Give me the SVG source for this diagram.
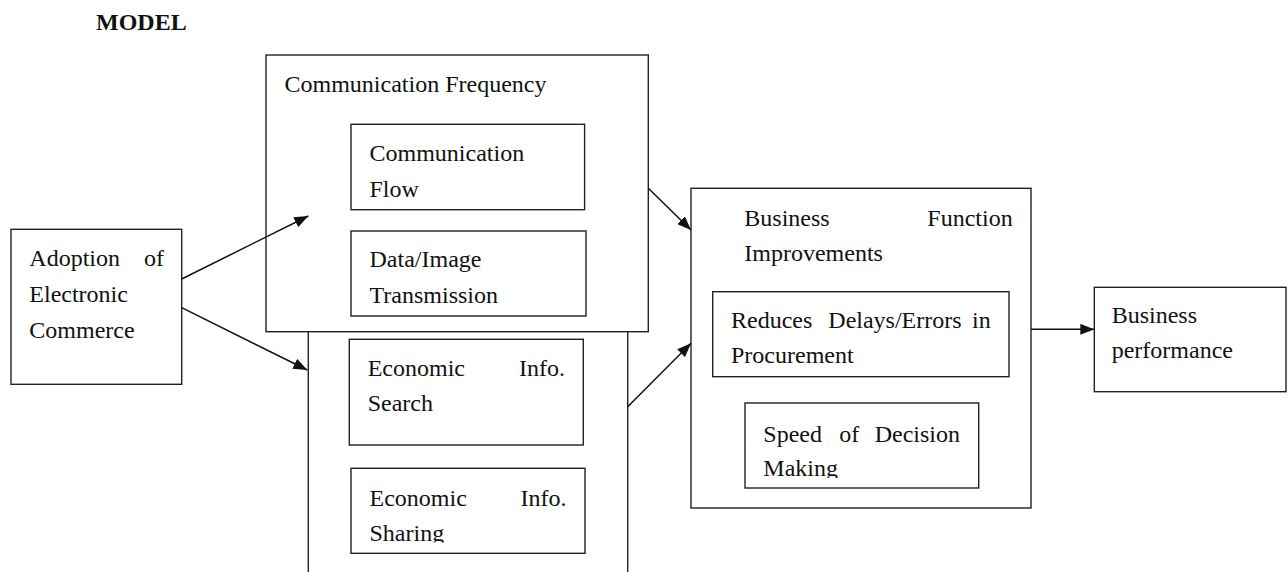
<svg xmlns="http://www.w3.org/2000/svg" width="1288" height="572" viewBox="0 0 1288 572">
<style>
.box{fill:#fff;stroke:#222;stroke-width:1.4}
.t{font-family:"Liberation Serif","Times New Roman",serif;font-size:24px;fill:#111}
.e{text-anchor:end}
.b{font-weight:bold}
.c{stroke:#111;stroke-width:1.5;fill:none}
</style>
<defs>
<marker id="ah" viewBox="0 0 14 11" refX="14" refY="5.5" markerWidth="14" markerHeight="11" markerUnits="userSpaceOnUse" orient="auto">
<path d="M0,0 L14,5.5 L0,11 Z" fill="#111"/>
</marker>
<clipPath id="clipShare"><rect x="340" y="460" width="260" height="82.5"/></clipPath>
<clipPath id="clipMake"><rect x="740" y="400" width="250" height="78"/></clipPath>
</defs>

<text class="t b" x="96" y="30">MODEL</text>

<g id="econ-group">
<rect class="box" x="308.3" y="320" width="319.4" height="270"/>
</g>

<g id="comm-frequency">
<rect class="box" x="266" y="55" width="382.3" height="276.7"/>
<text class="t" x="284.5" y="91.5">Communication Frequency</text>
</g>

<g id="comm-flow">
<rect class="box" x="351" y="124.3" width="233.6" height="85.4"/>
<text class="t" x="369.5" y="160.5">Communication</text>
<text class="t" x="369.5" y="196.5">Flow</text>
</g>

<g id="data-image">
<rect class="box" x="351" y="231" width="235" height="85"/>
<text class="t" x="369.5" y="266.5">Data/Image</text>
<text class="t" x="369.5" y="302.5">Transmission</text>
</g>

<g id="econ-search">
<rect class="box" x="349.3" y="339.3" width="234" height="105.7"/>
<text class="t" x="367.7" y="375.5">Economic</text>
<text class="t e" x="565" y="375.5">Info.</text>
<text class="t" x="367.7" y="410.5">Search</text>
</g>

<g id="econ-sharing">
<rect class="box" x="351" y="468.3" width="234" height="85"/>
<g clip-path="url(#clipShare)">
<text class="t" x="369.5" y="505.5">Economic</text>
<text class="t e" x="566.5" y="505.5">Info.</text>
<text class="t" x="369.5" y="540.5">Sharing</text>
</g>
</g>

<g id="adoption">
<rect class="box" x="11" y="229.3" width="170.7" height="155"/>
<text class="t" x="29.3" y="265.5">Adoption</text>
<text class="t e" x="164" y="265.5">of</text>
<text class="t" x="29.3" y="302">Electronic</text>
<text class="t" x="29.3" y="338">Commerce</text>
</g>

<g id="business-function">
<rect class="box" x="691" y="188.3" width="340" height="319.7"/>
<text class="t" x="744.3" y="226">Business</text>
<text class="t e" x="1012.7" y="226">Function</text>
<text class="t" x="744.3" y="261">Improvements</text>
</g>

<g id="reduces-delays">
<rect class="box" x="712.7" y="291.7" width="296.3" height="85"/>
<text class="t" x="731" y="327.7">Reduces</text>
<text class="t" x="828.3" y="327.7">Delays/Errors</text>
<text class="t e" x="990.7" y="327.7">in</text>
<text class="t" x="731" y="362.5">Procurement</text>
</g>

<g id="speed-decision">
<rect class="box" x="745" y="403" width="233.7" height="85"/>
<g clip-path="url(#clipMake)">
<text class="t" x="763.3" y="441.5">Speed</text>
<text class="t" x="839.3" y="441.5">of</text>
<text class="t e" x="960" y="441.5">Decision</text>
<text class="t" x="763.3" y="475.5">Making</text>
</g>
</g>

<g id="business-performance">
<rect class="box" x="1094.3" y="287.3" width="191.7" height="104.4"/>
<text class="t" x="1111.7" y="323.3">Business</text>
<text class="t" x="1111.7" y="358.3">performance</text>
</g>

<g id="connectors">
<line class="c" x1="181.7" y1="279" x2="308.3" y2="216" marker-end="url(#ah)"/>
<line class="c" x1="181.7" y1="307.7" x2="307.3" y2="370" marker-end="url(#ah)"/>
<line class="c" x1="648.3" y1="188.3" x2="691" y2="230" marker-end="url(#ah)"/>
<line class="c" x1="627.7" y1="406.7" x2="691" y2="343.3" marker-end="url(#ah)"/>
<line class="c" x1="1031" y1="329.3" x2="1094.3" y2="329.3" marker-end="url(#ah)"/>
</g>
</svg>
